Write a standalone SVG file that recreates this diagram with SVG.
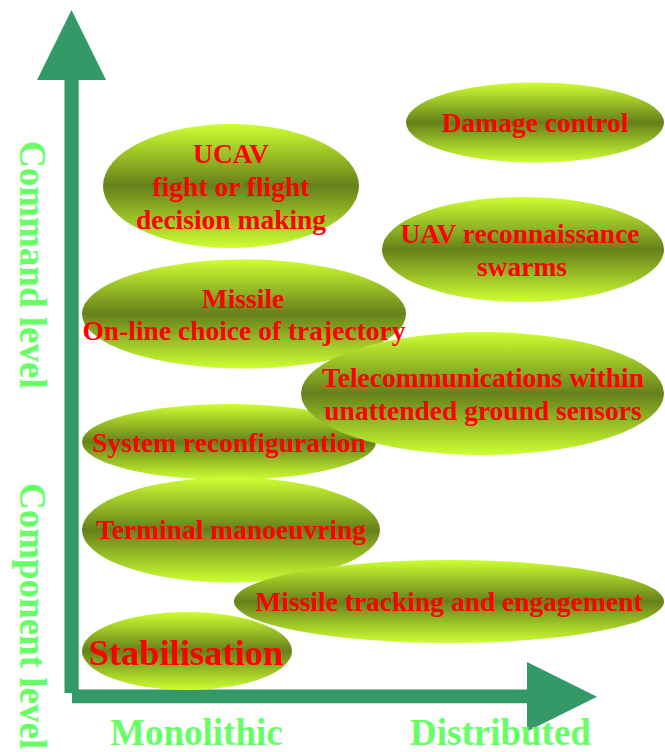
<svg xmlns="http://www.w3.org/2000/svg" width="665" height="752" viewBox="0 0 665 752">
<defs>
<linearGradient id="g" x1="0" y1="0" x2="0" y2="1">
<stop offset="0" stop-color="#CCFF33"/>
<stop offset="0.5" stop-color="#66801A"/>
<stop offset="1" stop-color="#CCFF33"/>
</linearGradient>
<style>
.n{fill:url(#g);stroke:none}
.t{font-family:"Liberation Serif","Times New Roman",serif;font-weight:bold;font-size:27.5px;fill:#FF0000;text-anchor:middle}
.ax{font-family:"Liberation Serif","Times New Roman",serif;font-weight:bold;font-size:37px;fill:#66FF66}
.arr{fill:#339966;stroke:none}
</style>
</defs>
<rect width="665" height="752" fill="#FFFFFF"/>
<g id="axes">
<polygon class="arr" points="71.5,10 106,80 78.7,80 78.7,693 64.5,693 64.5,80 37,80"/>
<polygon class="arr" points="72,689.5 527,689.5 527,662 597,696.7 527,731.5 527,703.3 72,703.3"/>
</g>
<g id="labels">
<text class="ax" transform="translate(20,141) rotate(90)">Command level</text>
<text class="ax" transform="translate(20,483) rotate(90)">Component level</text>
<text class="ax" x="110" y="745">Monolithic</text>
<text class="ax" x="410" y="745">Distributed</text>
</g>
<g id="shapes">
<ellipse id="e-damage" class="n" cx="535" cy="122.5" rx="129" ry="40"/>
<ellipse id="e-ucav" class="n" cx="231" cy="186" rx="128" ry="62"/>
<ellipse id="e-uav" class="n" cx="523" cy="249.5" rx="141" ry="52.5"/>
<ellipse id="e-missile" class="n" cx="244" cy="314" rx="162" ry="54.5"/>
<ellipse id="e-system" class="n" cx="229" cy="442" rx="147" ry="38"/>
<ellipse id="e-telecom" class="n" cx="482.5" cy="393.5" rx="181.5" ry="61.5"/>
<ellipse id="e-terminal" class="n" cx="231" cy="530" rx="149" ry="52.5"/>
<ellipse id="e-tracking" class="n" cx="449" cy="601.5" rx="215" ry="41.5"/>
<ellipse id="e-stab" class="n" cx="187" cy="651" rx="105" ry="39"/>
</g>
<g id="n-damage"><text class="t" x="535" y="132">Damage control</text></g>
<g id="n-ucav"><text class="t" x="231" y="163">UCAV</text><text class="t" x="231" y="195.5">fight or flight</text><text class="t" x="231" y="229">decision making</text></g>
<g id="n-uav"><text class="t" x="520" y="243">UAV reconnaissance</text><text class="t" x="522" y="275.5">swarms</text></g>
<g id="n-missile"><text class="t" x="243" y="307.5">Missile</text><text class="t" x="244" y="340">On-line choice of trajectory</text></g>
<g id="n-telecom"><text class="t" x="483" y="387">Telecommunications within</text><text class="t" x="483" y="419.5">unattended ground sensors</text></g>
<g id="n-system"><text class="t" x="229" y="452">System reconfiguration</text></g>
<g id="n-terminal"><text class="t" x="231" y="538.5">Terminal manoeuvring</text></g>
<g id="n-tracking"><text class="t" x="449" y="610.5">Missile tracking and engagement</text></g>
<g id="n-stab"><text class="t" x="186" y="665" style="font-size:36.5px">Stabilisation</text></g>
</svg>
